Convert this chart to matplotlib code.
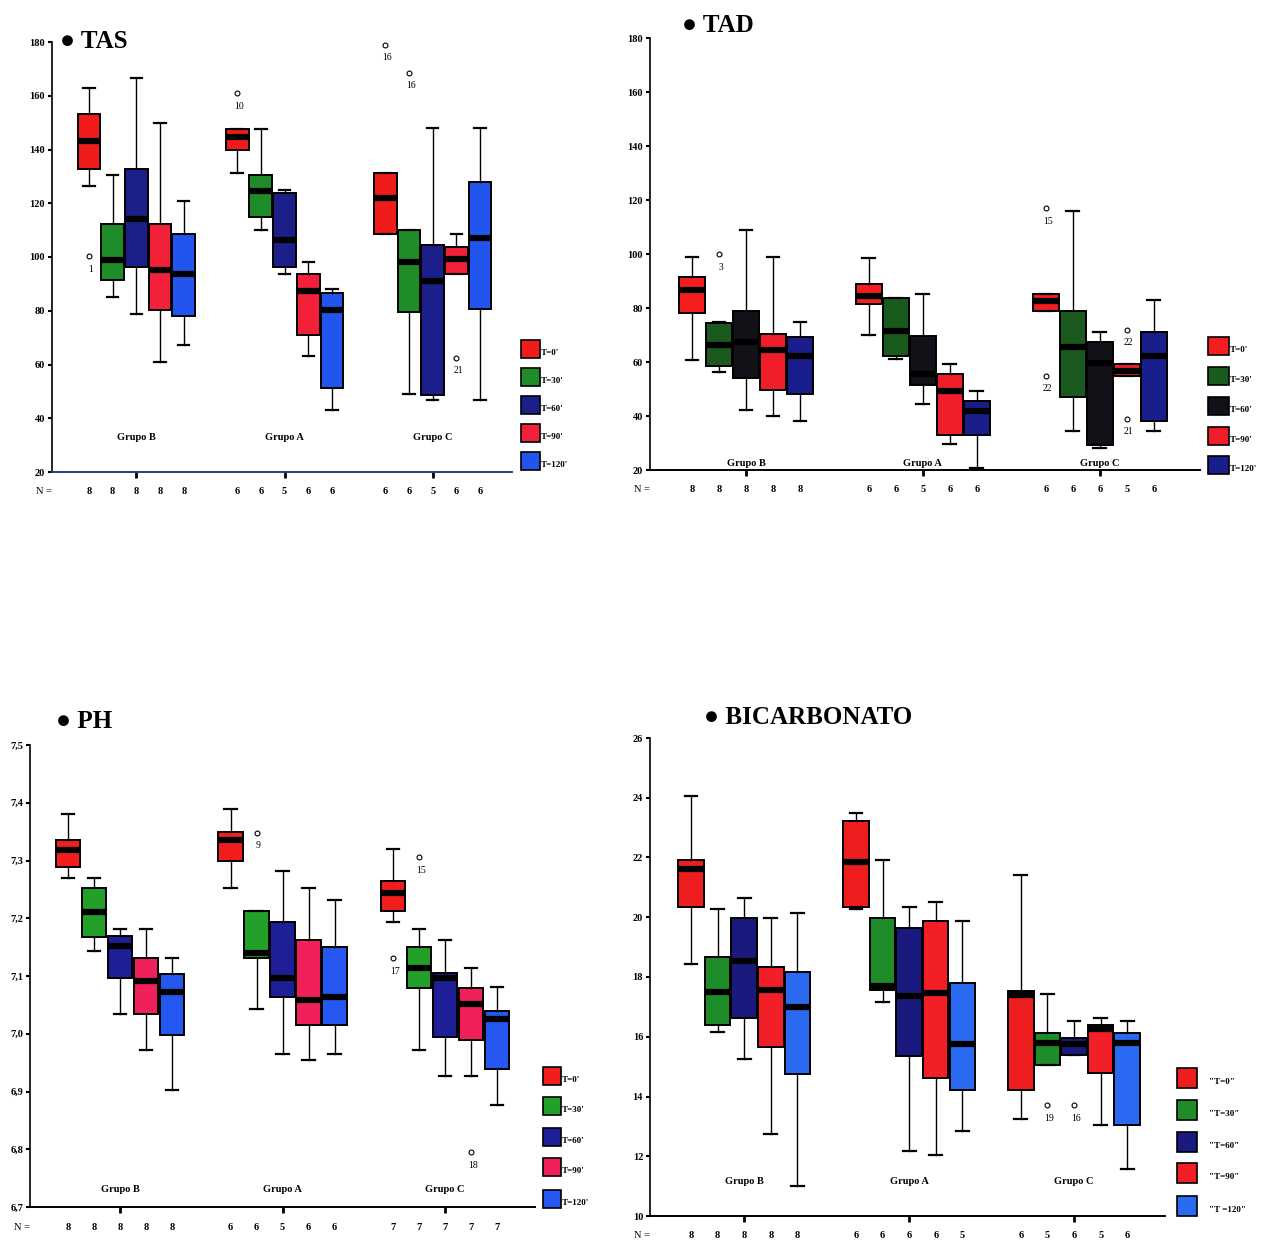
import matplotlib
matplotlib.use('Agg')
import matplotlib.pyplot as plt
from matplotlib.patches import Rectangle
from matplotlib.transforms import blended_transform_factory

plt.rcParams['font.family'] = ['Liberation Serif', 'DejaVu Serif']

W, H = 1271, 1247

groups = ['Grupo B', 'Grupo A', 'Grupo C']
times = ["T=0'", "T=30'", "T=60'", "T=90'", "T=120'"]
times_bic = ['"T=0"', '"T=30"', '"T=60"', '"T=90"', '"T =120"']

# ---- TAS ---- (15 boxes: Grupo B T0..T120, Grupo A, Grupo C)
tas_lo = [126.6, 85.1, 78.9, 60.9, 67.1, 131.2, 110.1, 93.7, 63.0, 42.9, 108.6, 49.1, 46.9, 93.7, 46.9]
tas_q1 = [132.8, 91.3, 96.2, 80.1, 77.9, 140.0, 114.8, 96.2, 70.8, 51.2, 108.6, 79.5, 48.7, 93.7, 80.7]
tas_med = [143.3, 98.7, 114.2, 95.0, 93.7, 144.5, 124.7, 106.4, 87.3, 80.3, 122.0, 98.1, 90.9, 99.3, 107.0]
tas_q3 = [153.2, 112.3, 132.8, 112.3, 108.6, 147.6, 130.5, 123.7, 93.7, 86.5, 131.2, 110.1, 104.5, 103.6, 127.8]
tas_hi = [162.9, 130.5, 166.6, 149.9, 121.0, 147.6, 147.6, 125.0, 98.3, 88.2, 131.2, 110.1, 147.9, 108.6, 147.9]
tas_n = [8, 8, 8, 8, 8, 6, 6, 5, 6, 6, 6, 6, 5, 6, 6]
tas_out = [(0, 100.3, '1'), (5, 161.0, '10'), (10, 179.0, '16'), (11, 168.5, '16'), (13, 62.5, '21')]

# ---- TAD ----
tad_lo = [60.9, 56.2, 42.1, 39.9, 38.0, 70.0, 61.2, 44.4, 29.7, 20.6, 78.9, 34.5, 28.1, 54.7, 34.5]
tad_q1 = [78.1, 58.5, 53.9, 49.8, 48.2, 81.4, 62.2, 51.6, 33.0, 33.0, 78.9, 46.9, 29.3, 54.7, 38.0]
tad_med = [86.6, 66.3, 67.5, 64.3, 62.2, 84.5, 71.5, 55.4, 49.2, 41.7, 82.7, 65.5, 59.7, 56.8, 62.2]
tad_q3 = [91.6, 74.6, 79.0, 70.2, 69.4, 88.9, 83.6, 69.6, 55.4, 45.4, 85.1, 78.9, 67.5, 59.3, 71.2]
tad_hi = [99.0, 75.0, 109.0, 98.8, 75.0, 98.5, 83.6, 85.1, 59.3, 49.2, 85.1, 115.9, 71.2, 59.3, 82.9]
tad_n = [8, 8, 8, 8, 8, 6, 6, 5, 6, 6, 6, 6, 6, 5, 6]
tad_out = [(1, 100.0, '3'), (10, 117.0, '15'), (10, 55.0, '22'), (13, 72.0, '22'), (13, 39.0, '21')]

# ---- PH ----
ph_lo = [7.270, 7.144, 7.034, 6.972, 6.903, 7.252, 7.043, 6.965, 6.954, 6.965, 7.194, 6.972, 6.926, 6.926, 6.877]
ph_q1 = [7.288, 7.167, 7.097, 7.034, 6.997, 7.300, 7.132, 7.063, 7.016, 7.016, 7.212, 7.079, 6.994, 6.990, 6.939]
ph_med = [7.318, 7.210, 7.152, 7.092, 7.072, 7.335, 7.139, 7.097, 7.058, 7.063, 7.243, 7.113, 7.097, 7.052, 7.025]
ph_q3 = [7.336, 7.252, 7.169, 7.132, 7.103, 7.350, 7.212, 7.194, 7.162, 7.150, 7.265, 7.150, 7.106, 7.079, 7.039]
ph_hi = [7.380, 7.270, 7.182, 7.182, 7.132, 7.390, 7.212, 7.282, 7.252, 7.231, 7.320, 7.182, 7.162, 7.113, 7.081]
ph_n = [8, 8, 8, 8, 8, 6, 6, 5, 6, 6, 7, 7, 7, 7, 7]
ph_out = [(6, 7.348, '9'), (11, 7.306, '15'), (10, 7.131, '17'), (13, 6.795, '18')]

# ---- BICARBONATO ----
bic_lo = [18.43, 16.17, 15.24, 12.73, 11.02, 20.28, 17.16, 12.18, 12.04, 12.84, 13.24, 15.07, 15.40, 13.03, 11.56]
bic_q1 = [20.35, 16.38, 16.63, 15.66, 14.74, 20.34, 17.58, 15.37, 14.62, 14.23, 14.23, 15.07, 15.40, 14.80, 13.03]
bic_med = [21.60, 17.49, 18.54, 17.58, 16.98, 21.85, 17.70, 17.35, 17.46, 15.76, 17.41, 15.78, 15.76, 16.27, 15.78]
bic_q3 = [21.93, 18.66, 19.99, 18.33, 18.18, 23.21, 19.98, 19.63, 19.86, 17.79, 17.53, 16.14, 15.97, 16.39, 16.14]
bic_hi = [24.05, 20.28, 20.64, 19.99, 20.13, 23.49, 21.93, 20.35, 20.52, 19.87, 21.43, 17.43, 16.53, 16.63, 16.53]
bic_n = [8, 8, 8, 8, 8, 6, 6, 6, 6, 5, 6, 5, 6, 5, 6]
bic_out = [(11, 13.7, '19'), (12, 13.7, '16')]

tas_colors = ['#f01c1c', '#1e8c28', '#1c1e8a', '#f3203a', '#2255ee']
tad_colors = ['#f51e1e', '#1b5a1e', '#111118', '#f01e2a', '#1a1e8c']
ph_colors = ['#f21e1e', '#22a02a', '#1e1e96', '#f0205a', '#2458f0']
bic_colors = ['#ee1e1e', '#1e8c28', '#1a1a7e', '#f21e28', '#2a6af0']

fig = plt.figure(figsize=(W / 100, H / 100), dpi=100)
fig.patch.set_facecolor('white')


def panel(L, T, R, B, ylim, yticks, yticklabels, lo, q1, med, q3, hi, n, outs,
          colors, c0, s, gap, title, tx, ty, leg_x, leg_y, leg_w, leg_h, labels,
          glab_dy, axis_color='black', leg_tx=3):
    ax = fig.add_axes([L / W, 1 - B / H, (R - L) / W, (B - T) / H])
    pos = [g * gap + t for g in range(3) for t in range(5)]
    stats = []
    for i in range(15):
        fl = [v for (k, v, lab) in outs if k == i]
        stats.append(dict(med=med[i], q1=q1[i], q3=q3[i], whislo=lo[i], whishi=hi[i], fliers=fl))
    bp = ax.bxp(stats, positions=pos, widths=0.96, patch_artist=True, showfliers=True,
                boxprops=dict(edgecolor='black', linewidth=1.4),
                medianprops=dict(color='black', linewidth=4.5, solid_capstyle='butt'),
                whiskerprops=dict(color='black', linewidth=1.0),
                capprops=dict(color='black', linewidth=1.6),
                flierprops=dict(marker='o', markerfacecolor='none', markeredgecolor='black',
                                markersize=3.5, markeredgewidth=0.8))
    for i, box in enumerate(bp['boxes']):
        box.set_facecolor(colors[i % 5])
    for (k, v, lab) in outs:
        ax.annotate(lab, (pos[k], v), xytext=(2, -13), textcoords='offset pixels',
                    fontsize=7, ha='center', va='center')

    ax.set_xlim((L - c0) / s, (R - c0) / s)
    ax.set_ylim(*ylim)
    ax.set_yticks(yticks)
    ax.set_yticklabels(yticklabels, fontsize=7.5, fontweight='bold')
    ax.set_xticks([g * gap + 2 for g in range(3)])
    ax.set_xticklabels([])
    ax.tick_params(axis='x', length=4, width=2, direction='out')
    ax.tick_params(axis='y', length=3, width=1.5, direction='out', pad=2)
    for sp in ['top', 'right']:
        ax.spines[sp].set_visible(False)
    ax.spines['left'].set_linewidth(1.2)
    ax.spines['bottom'].set_linewidth(1.4)
    ax.spines['bottom'].set_color(axis_color)
    ax.patch.set_alpha(0)

    hpx = B - T
    tr = blended_transform_factory(ax.transData, ax.transAxes)
    for i in range(15):
        ax.text(pos[i], -20 / hpx, str(n[i]), transform=tr, fontsize=7.5,
                ha='center', va='center', fontweight='bold')
    ax.text(-8 / (R - L), -20 / hpx, 'N =', transform=ax.transAxes, fontsize=7.5,
            ha='center', va='center')
    for g in range(3):
        ax.text(g * gap + 2, glab_dy / hpx, groups[g], transform=tr, fontsize=7.5,
                ha='center', va='center', fontweight='bold')

    fig.text(tx / W, 1 - ty / H, '\u25cf ' + title, fontsize=18, fontweight='bold',
             ha='left', va='center')
    for i in range(5):
        y0 = leg_y[i]
        fig.add_artist(Rectangle((leg_x / W, 1 - (y0 + leg_h) / H), leg_w / W, leg_h / H,
                                 transform=fig.transFigure, facecolor=colors[i],
                                 edgecolor='black', linewidth=1.2))
        fig.text((leg_x + leg_w + leg_tx) / W, 1 - (y0 + leg_h * 0.7) / H, labels[i],
                 fontsize=6.5, ha='left', va='center', fontweight='bold')
    return ax


panel(52, 42, 512, 472, (20, 180), list(range(20, 181, 20)),
      [str(v) for v in range(20, 181, 20)],
      tas_lo, tas_q1, tas_med, tas_q3, tas_hi, tas_n, tas_out, tas_colors,
      89, 23.7, 6.25, 'TAS', 60, 42, 521, [340, 368, 396, 424, 452], 19, 18, times,
      35, axis_color='#2a3a8a', leg_tx=1)

panel(650, 38, 1200, 470, (20, 180), list(range(20, 181, 20)),
      [str(v) for v in range(20, 181, 20)],
      tad_lo, tad_q1, tad_med, tad_q3, tad_hi, tad_n, tad_out, tad_colors,
      692, 27, 6.55, 'TAD', 682, 25, 1208, [337, 367, 397, 427, 456], 21, 18, times,
      7, leg_tx=1)

ph_ticks = [6.7, 6.8, 6.9, 7.0, 7.1, 7.2, 7.3, 7.4, 7.5]
panel(30, 745, 535, 1207, (6.7, 7.5), ph_ticks,
      [('%.1f' % v).replace('.', ',') for v in ph_ticks],
      ph_lo, ph_q1, ph_med, ph_q3, ph_hi, ph_n, ph_out, ph_colors,
      68, 26, 6.25, 'PH', 56, 722, 543, [1067, 1097, 1128, 1158, 1190], 18, 18, times,
      17, leg_tx=1)

panel(650, 738, 1165, 1216, (10, 26), list(range(10, 27, 2)),
      [str(v) for v in range(10, 27, 2)],
      bic_lo, bic_q1, bic_med, bic_q3, bic_hi, bic_n, bic_out, bic_colors,
      691, 26.6, 6.2, 'BICARBONATO', 704, 717, 1177, [1068, 1100, 1132, 1163, 1196], 20, 20,
      times_bic, 35, leg_tx=12)

fig.savefig('out.png', dpi=100)
